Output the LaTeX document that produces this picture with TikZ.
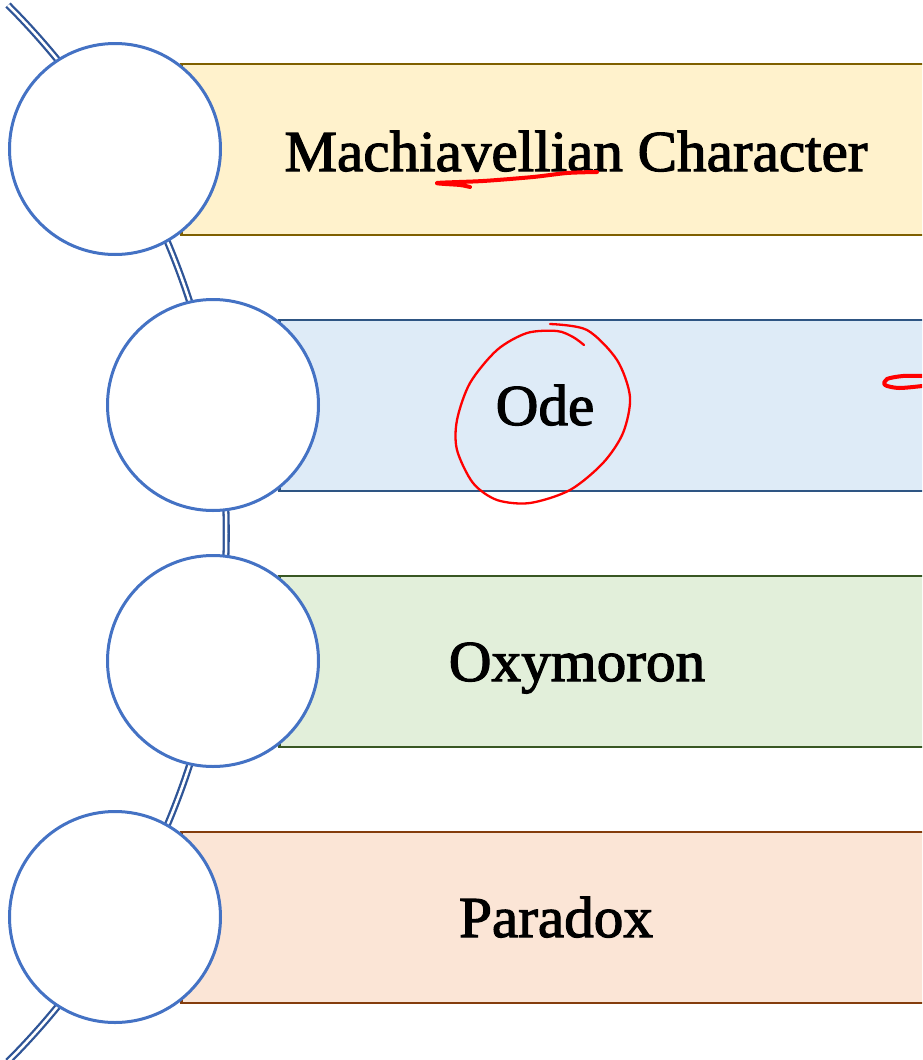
\documentclass[tikz,border=0pt]{standalone}
\usepackage{fontspec}
\setmainfont{Liberation Serif}
\newfontfamily\barfont[FakeBold=2, FakeStretch=1.02]{Liberation Serif}
\usetikzlibrary{positioning}
\definecolor{ringblue}{HTML}{4472C4}
\definecolor{spineblue}{HTML}{2F5597}
\definecolor{goldfill}{HTML}{FFF2CC}
\definecolor{goldline}{HTML}{7F6000}
\definecolor{bluefill}{HTML}{DEEBF7}
\definecolor{blueline}{HTML}{2E5583}
\definecolor{greenfill}{HTML}{E2EFDA}
\definecolor{greenline}{HTML}{385723}
\definecolor{peachfill}{HTML}{FBE5D6}
\definecolor{peachline}{HTML}{843C0C}
\tikzstyle{ring} = [circle, draw=ringblue, line width=3pt, fill=white, minimum size=211pt, inner sep=0pt]
\tikzstyle{bar} = [rectangle, anchor=west, minimum width=800pt, minimum height=171pt, line width=2.5pt]
\tikzstyle{bartext} = [anchor=base, font=\barfont\fontsize{58}{64}\selectfont]
\tikzstyle{spine} = [draw=spineblue, double=white, double distance=2.5pt, line width=2.3pt]
\tikzstyle{ink} = [draw=red, line cap=round, line join=round]

\begin{document}
\begin{tikzpicture}[x=1pt, y=-1pt]
    \useasboundingbox (0,0) rectangle (922,1060);
    \clip (0,0) rectangle (922,1060);

    % bars behind the rings
    \node (b1) [bar, fill=goldfill, draw=goldline] at (180,149.5) {};
    \node (b2) [bar, fill=bluefill, draw=blueline] at (278,405.5) {};
    \node (b3) [bar, fill=greenfill, draw=greenline] at (278,661.5) {};
    \node (b4) [bar, fill=peachfill, draw=peachline] at (180,917.5) {};

    \node (t1) [bartext] at (576,171) {Machiavellian Character};
    \node (t2) [bartext] at (545,425) {Ode};
    \node (t3) [bartext] at (577,681) {Oxymoron};
    \node (t4) [bartext] at (556,937) {Paradox};

    % the spine through the rings
    \coordinate (spinetop) at (8,5);
    \draw [spine] (spinetop) arc[start angle=-44.9, end angle=44.9, radius=748.4];

    \node (c1) [ring] at (115,149) {};
    \node (c2) [ring] at (213,405) {};
    \node (c3) [ring] at (213,661) {};
    \node (c4) [ring] at (115,917) {};

    % red pen marks
    \draw [ink, line width=4pt] plot[smooth] coordinates {(597,172) (567,173) (533,177) (483,181) (437,183) (460,185) (470,187)};
    \draw [ink, line width=2.3pt] plot[smooth] coordinates {(550,324) (587,330) (617,360) (630,397) (623,433) (603,463) (570,490) (530,503) (497,500) (473,483) (457,450) (457,420) (470,383) (497,350) (527,333) (557,331) (573,337) (584,345)};
    \draw [ink, line width=4pt] plot[smooth] coordinates {(922,376) (903,376) (887,379) (885,385) (899,388) (922,386)};
\end{tikzpicture}
\end{document}
